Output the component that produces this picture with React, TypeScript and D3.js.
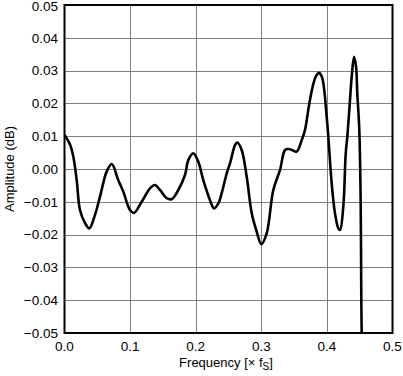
import React from "react";
import * as d3 from "d3";

const freq = [0.0, 0.0084, 0.0134, 0.0186, 0.0236, 0.0313, 0.0378, 0.0465, 0.0541, 0.0643, 0.072, 0.082, 0.0896, 0.0998, 0.1059, 0.1177, 0.1303, 0.138, 0.1456, 0.1558, 0.1634, 0.1735, 0.1837, 0.1887, 0.1963, 0.204, 0.2116, 0.2218, 0.2279, 0.2345, 0.2401, 0.2473, 0.2523, 0.2599, 0.2634, 0.2701, 0.2777, 0.2854, 0.293, 0.3, 0.3082, 0.3183, 0.3285, 0.3361, 0.3412, 0.3468, 0.354, 0.3616, 0.3666, 0.3732, 0.3788, 0.3834, 0.388, 0.3925, 0.3997, 0.4073, 0.4123, 0.4174, 0.42, 0.425, 0.4287, 0.4311, 0.4352, 0.4378, 0.4413, 0.4444, 0.4463, 0.4494, 0.4515, 0.4524, 0.453];
const amplitude = [0.0104, 0.0075, 0.0038, -0.0034, -0.0125, -0.0165, -0.0181, -0.014, -0.0084, -0.0008, 0.0015, -0.0034, -0.0069, -0.0125, -0.0134, -0.01, -0.0059, -0.0049, -0.0064, -0.0089, -0.0092, -0.0064, -0.0018, 0.0027, 0.0048, 0.0022, -0.0034, -0.0095, -0.012, -0.0105, -0.007, -0.0013, 0.0017, 0.0073, 0.0081, 0.0058, -0.0023, -0.0135, -0.0191, -0.0229, -0.0196, -0.0064, -0.0003, 0.0058, 0.0061, 0.0058, 0.0053, 0.0088, 0.0119, 0.02, 0.0255, 0.0283, 0.0293, 0.028, 0.0159, -0.0044, -0.0135, -0.0181, -0.0186, -0.0115, 0.0048, 0.0098, 0.021, 0.0281, 0.0342, 0.0312, 0.0231, 0.0119, -0.0105, -0.039, -0.05];

const xTicks = [0, 0.1, 0.2, 0.3, 0.4, 0.5];
const yTicks = [0.05, 0.04, 0.03, 0.02, 0.01, 0, -0.01, -0.02, -0.03, -0.04, -0.05];

const W = 403, H = 376;
const L = 64.5, R = 392.5, T = 5, B = 333;

export default function App() {
  const x = d3.scaleLinear().domain([0, 0.5]).range([L, R]);
  const y = d3.scaleLinear().domain([-0.05, 0.05]).range([B, T]);
  const pts = freq.map((f, i) => [f, amplitude[i]] as [number, number]);
  const line = d3.line<[number, number]>().x(d => x(d[0])).y(d => y(d[1])).curve(d3.curveCatmullRom.alpha(0.5));
  const fmtY = (v: number) => (v < 0 ? "\u2212" : "") + Math.abs(v).toFixed(2);
  const font = "Liberation Sans, Arial, sans-serif";
  return (
    <svg width={W} height={H} style={{ position: "absolute", left: 0, top: 0 }}>
      <defs>
        <clipPath id="clip"><rect x={L} y={T} width={R - L} height={B - T} /></clipPath>
      </defs>
      <rect width={W} height={H} fill="#fff" />
      {xTicks.slice(1, -1).map(t => (
        <line key={"gx" + t} x1={Math.round(x(t)) + 0.5} x2={Math.round(x(t)) + 0.5} y1={T} y2={B} stroke="#808080" strokeWidth={1} />
      ))}
      {yTicks.slice(1, -1).map(t => (
        <line key={"gy" + t} x1={L} x2={R} y1={Math.round(y(t)) + 0.5} y2={Math.round(y(t)) + 0.5} stroke="#808080" strokeWidth={1} />
      ))}
      <path d={line(pts) || ""} fill="none" stroke="#000" strokeWidth={2.6} strokeLinejoin="round" clipPath="url(#clip)" />
      <rect x={L} y={T} width={R - L} height={B - T} fill="none" stroke="#000" strokeWidth={2} />
      {yTicks.map(t => (
        <text key={"ty" + t} x={58} y={Math.max(y(t), 6)} dy="0.35em" textAnchor="end" fontFamily={font} fontSize={13.5} fill="#000">{fmtY(t)}</text>
      ))}
      {xTicks.map(t => (
        <text key={"tx" + t} x={x(t)} y={351} textAnchor="middle" fontFamily={font} fontSize={13.5} fill="#000">{t.toFixed(1)}</text>
      ))}
      <text x={226} y={367} textAnchor="middle" fontFamily={font} fontSize={13} fill="#000">
        Frequency [× f<tspan dy={3} fontSize={10}>S</tspan><tspan dy={-3}>]</tspan>
      </text>
      <text transform={`translate(14, ${(T + B) / 2}) rotate(-90)`} textAnchor="middle" fontFamily={font} fontSize={13} fill="#000">Amplitude (dB)</text>
    </svg>
  );
}
